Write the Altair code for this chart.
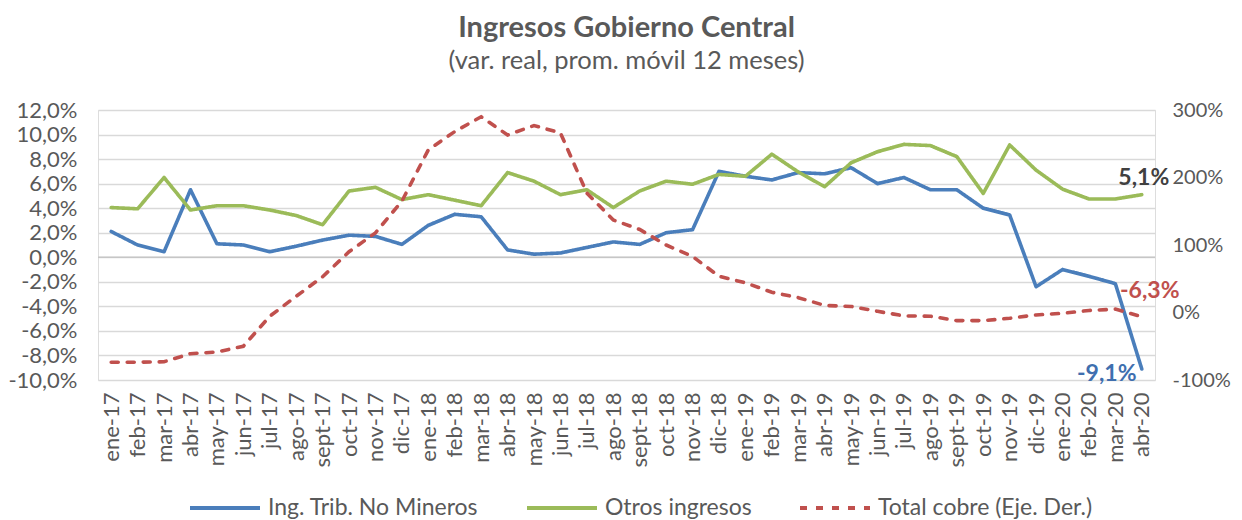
import altair as alt
import pandas as pd

months = ["ene-17", "feb-17", "mar-17", "abr-17", "may-17", "jun-17", "jul-17", "ago-17",
          "sept-17", "oct-17", "nov-17", "dic-17", "ene-18", "feb-18", "mar-18", "abr-18",
          "may-18", "jun-18", "jul-18", "ago-18", "sept-18", "oct-18", "nov-18", "dic-18",
          "ene-19", "feb-19", "mar-19", "abr-19", "may-19", "jun-19", "jul-19", "ago-19",
          "sept-19", "oct-19", "nov-19", "dic-19", "ene-20", "feb-20", "mar-20", "abr-20"]

ing_trib = [2.1, 1.0, 0.45, 5.5, 1.1, 1.0, 0.45, 0.9, 1.4, 1.8, 1.7, 1.05, 2.6, 3.5, 3.3,
            0.6, 0.25, 0.35, 0.8, 1.25, 1.05, 2.0, 2.25, 7.0, 6.6, 6.3, 6.9, 6.8,
            7.3, 6.0, 6.5, 5.5, 5.5, 4.0, 3.45, -2.4, -1.0, -1.55, -2.15, -9.1]

otros = [4.05, 3.95, 6.5, 3.85, 4.2, 4.2, 3.85, 3.4, 2.65, 5.4, 5.7, 4.7, 5.1, 4.65, 4.2,
         6.9, 6.2, 5.1, 5.5, 4.05, 5.4, 6.2, 5.95, 6.75, 6.6, 8.4, 6.95, 5.75,
         7.7, 8.6, 9.2, 9.1, 8.2, 5.2, 9.15, 7.1, 5.55, 4.75, 4.75, 5.1]

cobre = [-73.6, -73.6, -73.0, -61.0, -58.5, -50.0, -5.6, 24.0, 53.0, 90.0, 118.0, 165.0, 241.0, 268.0, 290.0,
         263.0, 277.0, 266.0, 177.0, 137.0, 123.0, 100.0, 83.0, 53.6, 44.0, 30.0, 22.0, 10.5,
         9.0, 1.7, -5.0, -5.5, -12.0, -12.0, -8.6, -3.6, -1.2, 3.0, 5.0, -6.3]

series = ["Ing. Trib. No Mineros", "Otros ingresos", "Total cobre (Eje. Der.)"]
colors = ["#4A7EBB", "#9BBB59", "#C0504D"]
dashes = [[1, 0], [1, 0], [7, 9]]

left_ticks = list(range(-10, 13, 2))
right_ticks = [-100, 0, 100, 200, 300]

FONT = "Lato"
GRAY = "#595959"


def fmt(v):
    return ("-" if v < 0 else "") + f"{abs(v):.1f}".replace(".", ",") + "%"


left_df = pd.DataFrame({
    "mes": months * 2,
    "serie": [series[0]] * len(months) + [series[1]] * len(months),
    "valor": ing_trib + otros,
})
right_df = pd.DataFrame({"mes": months, "serie": [series[2]] * len(months), "valor": cobre})
zero_df = pd.DataFrame({"valor": [0.0]})
lab_df = pd.DataFrame({
    "mes": [months[-1]] * 3,
    "serie": series,
    "valor": [ing_trib[-1], otros[-1], cobre[-1]],
    "txt": [fmt(ing_trib[-1]), fmt(otros[-1]), fmt(cobre[-1])],
})

x_enc = alt.X("mes:O", sort=months, title=None,
              axis=alt.Axis(labelAngle=-90, labelFontSize=22, labelColor=GRAY, labelFont=FONT,
                            domain=False, ticks=False, grid=False, labelPadding=12))

y_left = alt.Y("valor:Q", title=None,
               scale=alt.Scale(domain=[-10, 12], nice=False, zero=False),
               axis=alt.Axis(values=left_ticks, grid=True, gridColor="#d9d9d9", gridWidth=1.3,
                             domain=False, ticks=False, labelPadding=21, labelFontSize=22,
                             labelColor=GRAY, labelFont=FONT,
                             labelExpr="(datum.value < 0 ? '-' : '') + replace(format(abs(datum.value), '.1f'), '.', ',') + '%'"))

y_right = alt.Y("valor:Q", title=None,
                scale=alt.Scale(domain=[-100, 300], nice=False, zero=False),
                axis=alt.Axis(orient="right", values=right_ticks, grid=False, domain=False, ticks=False,
                              labelPadding=17, labelFontSize=20, labelColor=GRAY, labelFont=FONT,
                              labelExpr="(datum.value < 0 ? '-' : '') + format(abs(datum.value), 'd') + '%'"))

# legend padding shifts the entries toward the centre; negative offset keeps them at the bottom
legend = alt.Legend(title=None, orient="bottom", direction="horizontal",
                    padding=90, offset=-86,
                    symbolType="stroke", symbolSize=4900, symbolStrokeWidth=4,
                    labelFontSize=23, labelColor=GRAY, labelFont=FONT, labelLimit=400,
                    columnPadding=40, labelOffset=6)

color_enc = alt.Color("serie:N", sort=series, scale=alt.Scale(domain=series, range=colors), legend=legend)
dash_enc = alt.StrokeDash("serie:N", sort=series, scale=alt.Scale(domain=series, range=dashes), legend=legend)

zero_rule = alt.Chart(zero_df).mark_rule(color="#c6c6c6", strokeWidth=1.6).encode(y=y_left)

left_lines = alt.Chart(left_df).mark_line(strokeWidth=3.6, strokeCap="round", strokeJoin="round").encode(
    x=x_enc, y=y_left, color=color_enc, strokeDash=dash_enc)

green_lab = alt.Chart(lab_df).transform_filter(alt.datum.serie == series[1]).mark_text(
    font=FONT, fontSize=23, fontWeight="bold", color="#404040", dx=2, dy=-17
).encode(x=x_enc, y=y_left, text="txt:N")

blue_lab = alt.Chart(lab_df).transform_filter(alt.datum.serie == series[0]).mark_text(
    font=FONT, fontSize=23, fontWeight="bold", color="#3F6FAF", dx=-35, dy=5
).encode(x=x_enc, y=y_left, text="txt:N")

right_line = alt.Chart(right_df).mark_line(strokeWidth=3.6, strokeCap="round").encode(
    x=x_enc, y=y_right, color=color_enc, strokeDash=dash_enc)

red_lab = alt.Chart(lab_df).transform_filter(alt.datum.serie == series[2]).mark_text(
    font=FONT, fontSize=23, fontWeight="bold", color="#C0504D", dx=8, dy=-26
).encode(x=x_enc, y=y_right, text="txt:N")

left = alt.layer(zero_rule, left_lines, green_lab, blue_lab)
right = alt.layer(right_line, red_lab)

chart = alt.layer(left, right).resolve_scale(y="independent").properties(
    width=1057, height=270,
    autosize=alt.AutoSizeParams(type="none"),
    padding={"left": 90, "top": 102, "right": 79, "bottom": 140},
    title=alt.TitleParams(text="Ingresos Gobierno Central",
                          subtitle="(var. real, prom. móvil 12 meses)",
                          font=FONT, fontSize=29, fontWeight="bold", color=GRAY,
                          subtitleFont=FONT, subtitleFontSize=25.5, subtitleColor=GRAY,
                          subtitlePadding=6, anchor="middle", offset=25),
).configure_view(stroke=None).configure(font=FONT)

chart.save("out.html", embed_options={"renderer": "svg", "actions": False})
